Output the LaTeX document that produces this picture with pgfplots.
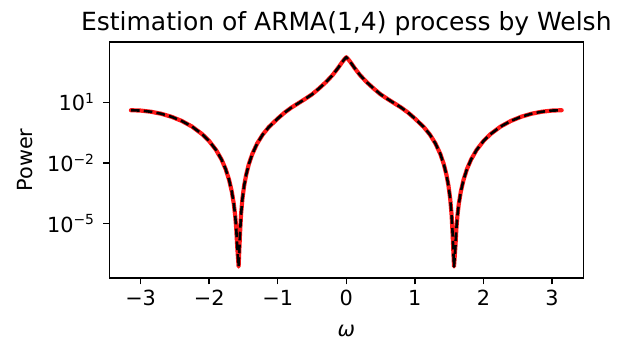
\documentclass[border=0pt]{standalone}
\usepackage{fontspec}
\setmainfont{DejaVu Sans}
\usepackage{pgfplots}
\usepackage{pgfplotstable}
\pgfplotsset{compat=1.18}

% omega, true spectrum, estimated spectrum
\pgfplotstableread{
w       tru       est
-3.1416 4.02      4.02
-3.0    3.86      3.86
-2.85   3.38      3.38
-2.7    2.69      2.69
-2.55   1.91      1.91
-2.4    1.188     1.188
-2.25   0.626     0.626
-2.1    0.261     0.261
-2.0    0.1205    0.1205
-1.9    0.0439    0.0439
-1.82   0.01486   0.01486
-1.76   5.03e-3   5.03e-3
-1.71   1.48e-3   1.48e-3
-1.67   3.85e-4   3.85e-4
-1.64   9.16e-5   9.16e-5
-1.62   2.36e-5   2.36e-5
-1.605  5.5e-6    5.5e-6
-1.592  8.1e-7    8.1e-7
-1.5708 7.76e-8   7.76e-8
-1.55   3.4e-6    3.4e-6
-1.535  2.95e-5   2.95e-5
-1.515  1.74e-4   1.74e-4
-1.49   7.62e-4   7.62e-4
-1.46   2.67e-3   2.67e-3
-1.42   9.13e-3   9.13e-3
-1.37   0.0284    0.0284
-1.30   0.0918    0.0918
-1.22   0.250     0.250
-1.13   0.593     0.593
-1.0    1.563     1.563
-0.9    3.08      3.08
-0.8    5.45      5.45
-0.7    8.87      8.87
-0.6    14.5      14.5
-0.5    24.4      24.4
-0.4    46.9      46.9
-0.3    95.5      95.5
-0.2    218       218
-0.12   490       490
-0.06   955       955
-0.03   1290      1290
0       1660      1660
0.03    1290      1290
0.06    955       955
0.12    490       490
0.2     218       218
0.3     95.5      95.5
0.4     46.9      46.9
0.5     24.4      24.4
0.6     14.5      14.5
0.7     8.87      8.87
0.8     5.45      5.45
0.9     3.08      3.08
1.0     1.563     1.563
1.13    0.593     0.593
1.22    0.250     0.250
1.30    0.0918    0.0918
1.37    0.0284    0.0284
1.42    9.13e-3   9.13e-3
1.46    2.67e-3   2.67e-3
1.49    7.62e-4   7.62e-4
1.515   1.74e-4   1.74e-4
1.535   2.95e-5   2.95e-5
1.55    3.4e-6    3.4e-6
1.5708  7.76e-8   7.76e-8
1.592   8.1e-7    8.1e-7
1.605   5.5e-6    5.5e-6
1.62    2.36e-5   2.36e-5
1.64    9.16e-5   9.16e-5
1.67    3.85e-4   3.85e-4
1.71    1.48e-3   1.48e-3
1.76    5.03e-3   5.03e-3
1.82    0.01486   0.01486
1.9     0.0439    0.0439
2.0     0.1205    0.1205
2.1     0.261     0.261
2.25    0.626     0.626
2.4     1.188     1.188
2.55    1.91      1.91
2.7     2.69      2.69
2.85    3.38      3.38
3.0     3.86      3.86
3.1416  4.02      4.02
}\spec

\begin{document}
\begin{tikzpicture}
\path[use as bounding box] (-63pt,-35pt) rectangle (300.5pt,160.2pt);
\begin{axis}[
  scale only axis, width=273pt, height=136pt,
  xmin=-3.456, xmax=3.456,
  ymode=log, ymin=2.09e-8, ymax=9.33e3,
  xtick={-3,-2,-1,0,1,2,3},
  xticklabels={−3,−2,−1,0,1,2,3},
  ytick={1e1,1e-2,1e-5},
  yticklabels={10\textsuperscript{1},10\textsuperscript{−2},10\textsuperscript{−5}},
  yminorticks=false, xminorticks=false,
  tick align=outside, tick pos=left,
  major tick length=3.6pt,
  tick style={black, line width=0.8pt},
  axis line style={line width=0.8pt},
  ticklabel style={font=\fontsize{12}{14}\selectfont},
  yticklabel style={xshift=-1.2pt},
  title={Estimation of ARMA(1,4) process by Welsh},
  title style={font=\fontsize{14.4}{17}\selectfont, at={(axis description cs:0.5,1)}, anchor=base, yshift=0.9pt},
  xlabel={\textit{ω}},
  xlabel style={font=\fontsize{12}{14}\selectfont, inner sep=0pt, at={(axis description cs:0.5,-0.222)}, anchor=center},
  ylabel={Power},
  ylabel style={font=\fontsize{12}{14}\selectfont, at={(axis description cs:-0.178,0.5)}, anchor=center},
]
\addplot[red, line width=2.4pt, opacity=0.9, line join=round, line cap=round] table[x=w, y=tru] {\spec};
\addplot[black, line width=1.5pt, line join=round, dash pattern=on 5pt off 2.4pt] table[x=w, y=est] {\spec};
\end{axis}
\end{tikzpicture}
\end{document}
